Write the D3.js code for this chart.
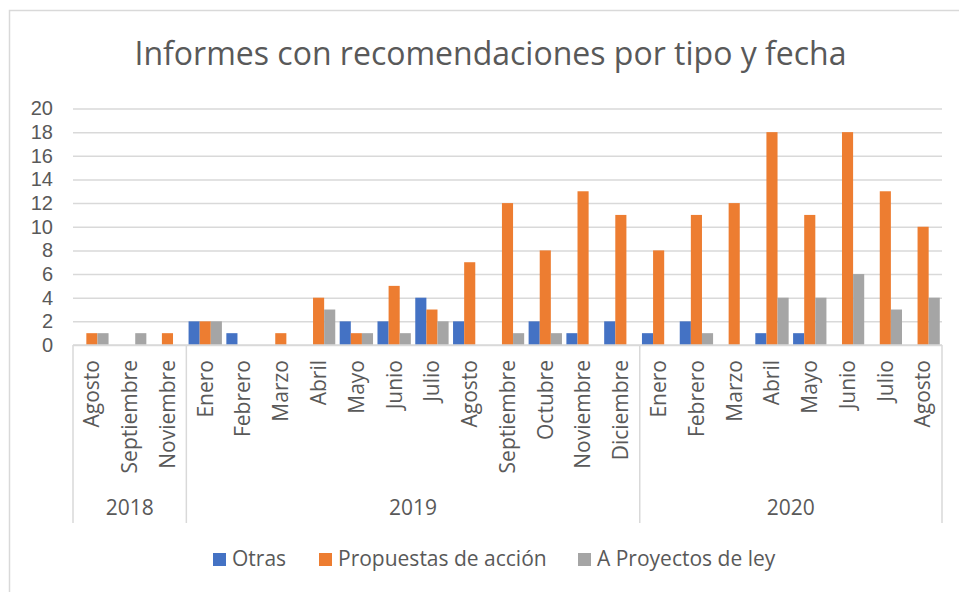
<!DOCTYPE html>
<html>
<head>
<meta charset="utf-8">
<script src="https://cdn.jsdelivr.net/npm/d3@7"></script>
<style>
  body { margin: 0; background: #fff; }
  svg { display: block; font-family: "Open Sans", sans-serif; }
</style>
</head>
<body>
<div id="chart"></div>
<script>
  //-----------------------------DATA------------------------------//
  const months = ["Agosto", "Septiembre", "Noviembre",
    "Enero", "Febrero", "Marzo", "Abril", "Mayo", "Junio", "Julio", "Agosto",
    "Septiembre", "Octubre", "Noviembre", "Diciembre",
    "Enero", "Febrero", "Marzo", "Abril", "Mayo", "Junio", "Julio", "Agosto"];
  const years = [
    { year: "2018", count: 3 },
    { year: "2019", count: 12 },
    { year: "2020", count: 8 }
  ];
  const otras =      [0, 0, 0, 2, 1, 0, 0, 2, 2, 4, 2, 0, 2, 1, 2, 1, 2, 0, 1, 1, 0, 0, 0];
  const propuestas = [1, 0, 1, 2, 0, 1, 4, 1, 5, 3, 7, 12, 8, 13, 11, 8, 11, 12, 18, 11, 18, 13, 10];
  const proyectos =  [1, 1, 0, 2, 0, 0, 3, 1, 1, 2, 0, 1, 1, 0, 0, 0, 1, 0, 4, 4, 6, 3, 4];
  const seriesNames = ["Otras", "Propuestas de acción", "A Proyectos de ley"];
  const colors = ["#4472C4", "#ED7D31", "#A5A5A5"];
  const yTicks = [0, 2, 4, 6, 8, 10, 12, 14, 16, 18, 20];

  //-----------------------------SVG------------------------------//
  const width = 959;
  const height = 592;
  const plotLeft = 73, plotRight = 942, plotTop = 108.5, plotBottom = 345;
  const textColor = "#595959";
  const lineColor = "#d9d9d9";
  const labelSize = "21px";

  const svg = d3.select("#chart").append("svg")
    .attr("width", width)
    .attr("height", height);

  // chart border (right and bottom fall outside the picture)
  svg.append("rect")
    .attr("x", 9.5).attr("y", 10.5)
    .attr("width", 970).attr("height", 600)
    .attr("fill", "none")
    .attr("stroke", lineColor)
    .attr("stroke-width", 1.5);

  // title
  svg.append("text")
    .attr("x", 490.5).attr("y", 65)
    .attr("text-anchor", "middle")
    .attr("fill", textColor)
    .style("font-size", "32px")
    .text("Informes con recomendaciones por tipo y fecha");

  //----------------------------SCALES-----------------------------//
  const idx = months.map((d, i) => i);
  const xScale = d3.scaleBand().domain(idx).range([plotLeft, plotRight]).paddingInner(0).paddingOuter(0);
  const xInner = d3.scaleBand().domain([0, 1, 2])
    .range([0, xScale.bandwidth()])
    .paddingInner(0).paddingOuter(0.2);
  const yScale = d3.scaleLinear().domain([0, 20]).range([plotBottom, plotTop]);

  //-----------------------------AXES------------------------------//
  const yaxis = d3.axisLeft(yScale).tickValues(yTicks).tickSize(-(plotRight - plotLeft)).tickPadding(20);
  const gy = svg.append("g")
    .attr("transform", "translate(" + plotLeft + ",0)")
    .call(yaxis);
  gy.select(".domain").remove();
  gy.selectAll(".tick line").attr("stroke", lineColor).attr("stroke-width", 1.5);
  // tighter font box so the dense tick labels do not collide
  gy.selectAll(".tick text")
    .attr("fill", textColor)
    .style("font-size", "20px")
    .style("font-family", "'Liberation Sans', sans-serif");

  //----------------------------BARS------------------------------//
  const series = [otras, propuestas, proyectos];
  series.forEach(function (vals, s) {
    svg.append("g")
      .selectAll("rect")
      .data(vals)
      .enter()
      .append("rect")
      .attr("x", (d, i) => xScale(i) + xInner(s))
      .attr("width", xInner.bandwidth())
      .attr("y", d => yScale(d))
      .attr("height", d => yScale(0) - yScale(d))
      .attr("fill", colors[s]);
  });

  // x axis line
  svg.append("line")
    .attr("x1", plotLeft).attr("x2", plotRight)
    .attr("y1", plotBottom).attr("y2", plotBottom)
    .attr("stroke", lineColor).attr("stroke-width", 1.5);

  // month labels
  svg.append("g")
    .selectAll("text")
    .data(months)
    .enter()
    .append("text")
    .attr("transform", (d, i) => "translate(" + (xScale(i) + xScale.bandwidth() / 2) + "," + 360 + ") rotate(-90)")
    .attr("dy", "0.35em")
    .attr("text-anchor", "end")
    .attr("fill", textColor)
    .style("font-size", labelSize)
    .text(d => d);

  // year groups and separators
  let start = 0;
  const bounds = [0];
  years.forEach(function (y) {
    start += y.count;
    bounds.push(start);
  });
  const xAt = b => b === months.length ? plotRight : xScale(b);
  svg.append("g")
    .selectAll("line")
    .data(bounds)
    .enter()
    .append("line")
    .attr("x1", xAt)
    .attr("x2", xAt)
    .attr("y1", plotBottom).attr("y2", 523)
    .attr("stroke", lineColor).attr("stroke-width", 1.5);

  svg.append("g")
    .selectAll("text")
    .data(years)
    .enter()
    .append("text")
    .attr("x", (d, i) => (xAt(bounds[i]) + xAt(bounds[i + 1])) / 2)
    .attr("y", 515)
    .attr("text-anchor", "middle")
    .attr("fill", textColor)
    .style("font-size", labelSize)
    .text(d => d.year);

  //----------------------------LEGEND------------------------------//
  const legendX = [213, 319, 578];
  const legend = svg.append("g")
    .selectAll("g")
    .data(seriesNames)
    .enter()
    .append("g")
    .attr("transform", (d, i) => "translate(" + legendX[i] + ",553)");
  legend.append("rect")
    .attr("width", 13).attr("height", 13)
    .attr("fill", (d, i) => colors[i]);
  legend.append("text")
    .attr("x", 19).attr("y", 13)
    .attr("fill", textColor)
    .style("font-size", labelSize)
    .text(d => d);
</script>
</body>
</html>
